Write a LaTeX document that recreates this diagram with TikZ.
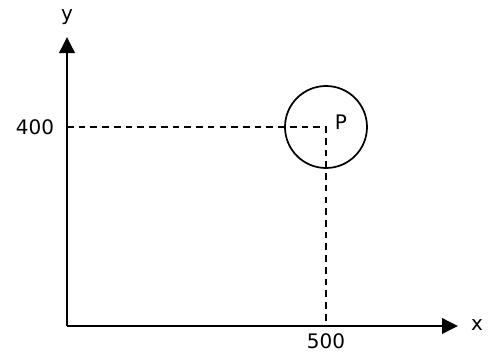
\documentclass[tikz,border=0pt]{standalone}
\usepackage{fontspec}
\setmainfont{DejaVu Sans}
\usetikzlibrary{arrows.meta}
\begin{document}
\begin{tikzpicture}[x=0.75pt,y=-0.75pt,
  axis/.style={line width=1.9pt,-{Triangle[length=12pt,width=11.5pt]}},
  guide/.style={line width=1.3pt,dash pattern=on 5pt off 3.8pt},
  lbl/.style={font=\fontsize{15}{17}\selectfont,inner sep=0pt}]
\useasboundingbox (0,0) rectangle (494,354);
\coordinate (O) at (67,326);
\coordinate (Yend) at (67,37);
\coordinate (Xend) at (458,326);
\node[draw,circle,line width=1.3pt,minimum size=61.5pt,inner sep=0pt] (P) at (326,127) {};
\draw[guide] (O |- P.center) -- (P.center) -- (P.center |- O);
\draw[axis] (O) -- (Yend);
\draw[axis] (O) -- (Xend);
\node[lbl] (ylab) at (67,17) {y};
\node[lbl] (xlab) at (477,325) {x};
\node[lbl] (l400) at (35,127) {400};
\node[lbl] (l500) at (326,341) {500};
\node[lbl] (plab) at (341,122) {P};
\end{tikzpicture}
\end{document}
